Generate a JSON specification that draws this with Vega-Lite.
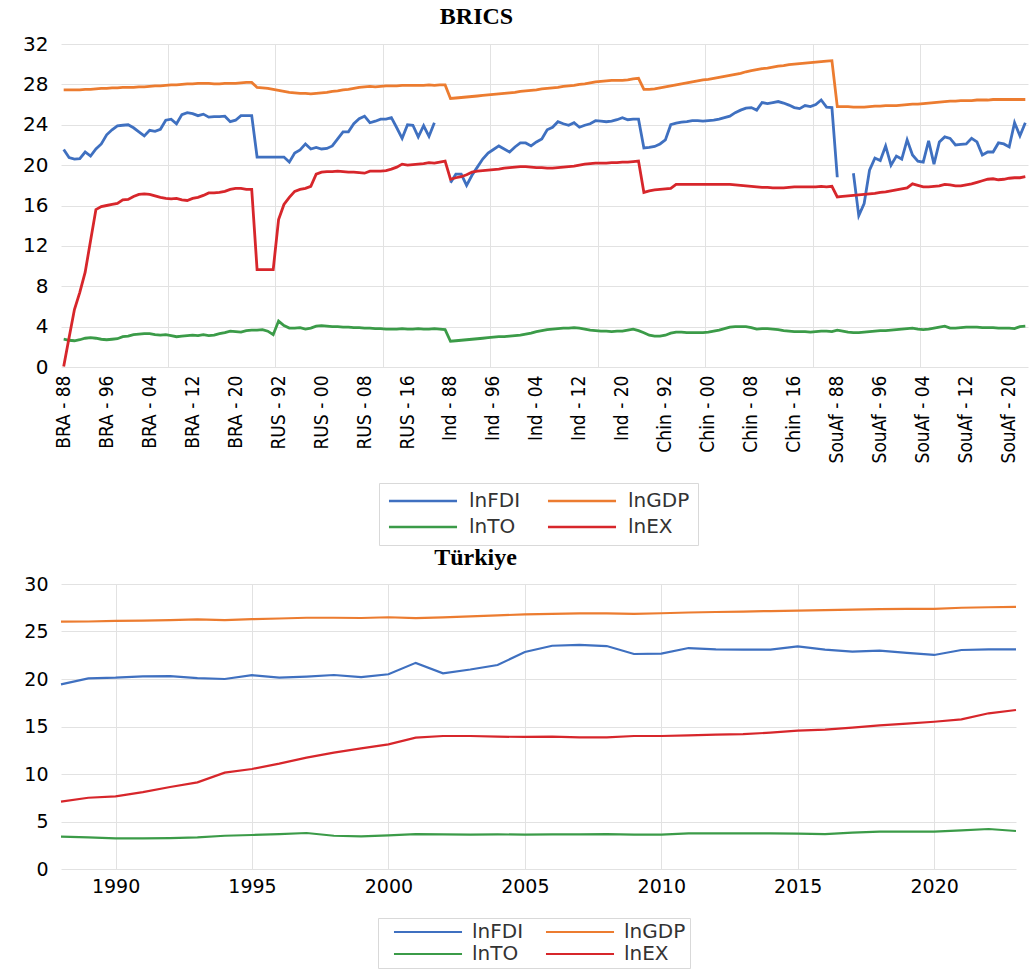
{
"$schema": "https://vega.github.io/schema/vega-lite/v6.json",
"background": "white",
"padding": {"left": 22, "top": 5, "right": 2, "bottom": 0},
"spacing": 0,
"config": {
  "view": {"stroke": null},
  "axis": {"gridColor": "#e2e2e2", "gridWidth": 1, "domain": false, "ticks": false, "labelColor": "#000", "title": null},
  "title": {"font": "Liberation Serif", "fontSize": 24, "fontWeight": "bold", "color": "#000", "anchor": "middle"},
  "legend": {"columns": 2, "direction": "horizontal", "symbolType": "M-4.86,0H4.86", "symbolSize": 196, "symbolOffset": 26, "labelOffset": 36, "labelFont": "DejaVu Sans", "labelFontSize": 20, "labelColor": "#333333", "columnPadding": 21, "rowPadding": 6, "padding": 8, "strokeColor": "#d9d9d9", "title": null}
},
"datasets": {
"brics": [
{"k":"BRA - 88","lnFDI":21.55,"lnGDP":27.45,"lnTO":2.75,"lnEX":0.05},
{"k":"BRA - 89","lnFDI":20.75,"lnGDP":27.45,"lnTO":2.65,"lnEX":2.9},
{"k":"BRA - 90","lnFDI":20.6,"lnGDP":27.45,"lnTO":2.6,"lnEX":5.7},
{"k":"BRA - 91","lnFDI":20.65,"lnGDP":27.45,"lnTO":2.7,"lnEX":7.4},
{"k":"BRA - 92","lnFDI":21.3,"lnGDP":27.5,"lnTO":2.85,"lnEX":9.4},
{"k":"BRA - 93","lnFDI":20.9,"lnGDP":27.5,"lnTO":2.9,"lnEX":12.5},
{"k":"BRA - 94","lnFDI":21.6,"lnGDP":27.55,"lnTO":2.85,"lnEX":15.6},
{"k":"BRA - 95","lnFDI":22.1,"lnGDP":27.6,"lnTO":2.75,"lnEX":15.9},
{"k":"BRA - 96","lnFDI":23.0,"lnGDP":27.6,"lnTO":2.7,"lnEX":16.0},
{"k":"BRA - 97","lnFDI":23.5,"lnGDP":27.65,"lnTO":2.75,"lnEX":16.1},
{"k":"BRA - 98","lnFDI":23.9,"lnGDP":27.65,"lnTO":2.8,"lnEX":16.2},
{"k":"BRA - 99","lnFDI":23.95,"lnGDP":27.7,"lnTO":3.0,"lnEX":16.55},
{"k":"BRA - 00","lnFDI":24.0,"lnGDP":27.7,"lnTO":3.05,"lnEX":16.6},
{"k":"BRA - 01","lnFDI":23.7,"lnGDP":27.7,"lnTO":3.2,"lnEX":16.9},
{"k":"BRA - 02","lnFDI":23.3,"lnGDP":27.75,"lnTO":3.25,"lnEX":17.1},
{"k":"BRA - 03","lnFDI":22.9,"lnGDP":27.75,"lnTO":3.3,"lnEX":17.15},
{"k":"BRA - 04","lnFDI":23.45,"lnGDP":27.8,"lnTO":3.3,"lnEX":17.1},
{"k":"BRA - 05","lnFDI":23.35,"lnGDP":27.85,"lnTO":3.2,"lnEX":16.95},
{"k":"BRA - 06","lnFDI":23.55,"lnGDP":27.85,"lnTO":3.15,"lnEX":16.8},
{"k":"BRA - 07","lnFDI":24.45,"lnGDP":27.9,"lnTO":3.2,"lnEX":16.7},
{"k":"BRA - 08","lnFDI":24.55,"lnGDP":27.95,"lnTO":3.1,"lnEX":16.65},
{"k":"BRA - 09","lnFDI":24.1,"lnGDP":27.95,"lnTO":3.0,"lnEX":16.7},
{"k":"BRA - 10","lnFDI":25.0,"lnGDP":28.0,"lnTO":3.05,"lnEX":16.55},
{"k":"BRA - 11","lnFDI":25.2,"lnGDP":28.05,"lnTO":3.1,"lnEX":16.5},
{"k":"BRA - 12","lnFDI":25.1,"lnGDP":28.05,"lnTO":3.15,"lnEX":16.7},
{"k":"BRA - 13","lnFDI":24.9,"lnGDP":28.1,"lnTO":3.1,"lnEX":16.8},
{"k":"BRA - 14","lnFDI":25.05,"lnGDP":28.1,"lnTO":3.2,"lnEX":17.0},
{"k":"BRA - 15","lnFDI":24.75,"lnGDP":28.1,"lnTO":3.1,"lnEX":17.25},
{"k":"BRA - 16","lnFDI":24.8,"lnGDP":28.05,"lnTO":3.15,"lnEX":17.25},
{"k":"BRA - 17","lnFDI":24.8,"lnGDP":28.05,"lnTO":3.3,"lnEX":17.3},
{"k":"BRA - 18","lnFDI":24.85,"lnGDP":28.1,"lnTO":3.4,"lnEX":17.4},
{"k":"BRA - 19","lnFDI":24.3,"lnGDP":28.1,"lnTO":3.55,"lnEX":17.6},
{"k":"BRA - 20","lnFDI":24.45,"lnGDP":28.1,"lnTO":3.5,"lnEX":17.7},
{"k":"BRA - 21","lnFDI":24.9,"lnGDP":28.15,"lnTO":3.45,"lnEX":17.7},
{"k":"BRA - 22","lnFDI":24.9,"lnGDP":28.2,"lnTO":3.6,"lnEX":17.6},
{"k":"BRA - 23","lnFDI":24.9,"lnGDP":28.2,"lnTO":3.65,"lnEX":17.6},
{"k":"RUS - 88","lnFDI":20.8,"lnGDP":27.7,"lnTO":3.65,"lnEX":9.65},
{"k":"RUS - 89","lnFDI":20.8,"lnGDP":27.65,"lnTO":3.7,"lnEX":9.65},
{"k":"RUS - 90","lnFDI":20.8,"lnGDP":27.6,"lnTO":3.55,"lnEX":9.65},
{"k":"RUS - 91","lnFDI":20.8,"lnGDP":27.5,"lnTO":3.2,"lnEX":9.65},
{"k":"RUS - 92","lnFDI":20.8,"lnGDP":27.4,"lnTO":4.55,"lnEX":14.6},
{"k":"RUS - 93","lnFDI":20.8,"lnGDP":27.3,"lnTO":4.1,"lnEX":16.1},
{"k":"RUS - 94","lnFDI":20.3,"lnGDP":27.2,"lnTO":3.85,"lnEX":16.8},
{"k":"RUS - 95","lnFDI":21.2,"lnGDP":27.15,"lnTO":3.85,"lnEX":17.4},
{"k":"RUS - 96","lnFDI":21.5,"lnGDP":27.1,"lnTO":3.9,"lnEX":17.6},
{"k":"RUS - 97","lnFDI":22.1,"lnGDP":27.1,"lnTO":3.75,"lnEX":17.7},
{"k":"RUS - 98","lnFDI":21.6,"lnGDP":27.05,"lnTO":3.85,"lnEX":17.9},
{"k":"RUS - 99","lnFDI":21.75,"lnGDP":27.1,"lnTO":4.05,"lnEX":19.1},
{"k":"RUS - 00","lnFDI":21.6,"lnGDP":27.15,"lnTO":4.1,"lnEX":19.3},
{"k":"RUS - 01","lnFDI":21.65,"lnGDP":27.2,"lnTO":4.05,"lnEX":19.35},
{"k":"RUS - 02","lnFDI":21.9,"lnGDP":27.3,"lnTO":4.0,"lnEX":19.35},
{"k":"RUS - 03","lnFDI":22.6,"lnGDP":27.35,"lnTO":4.0,"lnEX":19.4},
{"k":"RUS - 04","lnFDI":23.3,"lnGDP":27.45,"lnTO":3.95,"lnEX":19.35},
{"k":"RUS - 05","lnFDI":23.3,"lnGDP":27.5,"lnTO":3.95,"lnEX":19.3},
{"k":"RUS - 06","lnFDI":24.1,"lnGDP":27.6,"lnTO":3.9,"lnEX":19.3},
{"k":"RUS - 07","lnFDI":24.6,"lnGDP":27.7,"lnTO":3.9,"lnEX":19.25},
{"k":"RUS - 08","lnFDI":24.85,"lnGDP":27.75,"lnTO":3.85,"lnEX":19.2},
{"k":"RUS - 09","lnFDI":24.2,"lnGDP":27.8,"lnTO":3.85,"lnEX":19.4},
{"k":"RUS - 10","lnFDI":24.35,"lnGDP":27.75,"lnTO":3.8,"lnEX":19.4},
{"k":"RUS - 11","lnFDI":24.55,"lnGDP":27.8,"lnTO":3.8,"lnEX":19.4},
{"k":"RUS - 12","lnFDI":24.55,"lnGDP":27.85,"lnTO":3.75,"lnEX":19.45},
{"k":"RUS - 13","lnFDI":24.7,"lnGDP":27.85,"lnTO":3.75,"lnEX":19.6},
{"k":"RUS - 14","lnFDI":23.7,"lnGDP":27.85,"lnTO":3.75,"lnEX":19.8},
{"k":"RUS - 15","lnFDI":22.65,"lnGDP":27.9,"lnTO":3.8,"lnEX":20.1},
{"k":"RUS - 16","lnFDI":24.0,"lnGDP":27.9,"lnTO":3.75,"lnEX":20.0},
{"k":"RUS - 17","lnFDI":23.95,"lnGDP":27.9,"lnTO":3.75,"lnEX":20.05},
{"k":"RUS - 18","lnFDI":22.8,"lnGDP":27.9,"lnTO":3.8,"lnEX":20.1},
{"k":"RUS - 19","lnFDI":23.9,"lnGDP":27.9,"lnTO":3.75,"lnEX":20.15},
{"k":"RUS - 20","lnFDI":22.85,"lnGDP":27.95,"lnTO":3.75,"lnEX":20.25},
{"k":"RUS - 21","lnFDI":24.2,"lnGDP":27.9,"lnTO":3.8,"lnEX":20.2},
{"k":"RUS - 22","lnFDI":null,"lnGDP":27.95,"lnTO":3.75,"lnEX":20.3},
{"k":"RUS - 23","lnFDI":null,"lnGDP":27.95,"lnTO":3.7,"lnEX":20.4},
{"k":"Ind - 88","lnFDI":18.25,"lnGDP":26.6,"lnTO":2.55,"lnEX":18.6},
{"k":"Ind - 89","lnFDI":19.1,"lnGDP":26.65,"lnTO":2.6,"lnEX":18.75},
{"k":"Ind - 90","lnFDI":19.1,"lnGDP":26.7,"lnTO":2.65,"lnEX":18.85},
{"k":"Ind - 91","lnFDI":18.0,"lnGDP":26.75,"lnTO":2.7,"lnEX":19.05},
{"k":"Ind - 92","lnFDI":19.0,"lnGDP":26.8,"lnTO":2.75,"lnEX":19.3},
{"k":"Ind - 93","lnFDI":19.8,"lnGDP":26.85,"lnTO":2.8,"lnEX":19.4},
{"k":"Ind - 94","lnFDI":20.6,"lnGDP":26.9,"lnTO":2.85,"lnEX":19.45},
{"k":"Ind - 95","lnFDI":21.2,"lnGDP":26.95,"lnTO":2.9,"lnEX":19.5},
{"k":"Ind - 96","lnFDI":21.55,"lnGDP":27.0,"lnTO":2.95,"lnEX":19.55},
{"k":"Ind - 97","lnFDI":21.9,"lnGDP":27.05,"lnTO":3.0,"lnEX":19.6},
{"k":"Ind - 98","lnFDI":21.6,"lnGDP":27.1,"lnTO":3.0,"lnEX":19.7},
{"k":"Ind - 99","lnFDI":21.3,"lnGDP":27.15,"lnTO":3.05,"lnEX":19.75},
{"k":"Ind - 00","lnFDI":21.8,"lnGDP":27.2,"lnTO":3.1,"lnEX":19.8},
{"k":"Ind - 01","lnFDI":22.2,"lnGDP":27.3,"lnTO":3.15,"lnEX":19.85},
{"k":"Ind - 02","lnFDI":22.2,"lnGDP":27.35,"lnTO":3.25,"lnEX":19.85},
{"k":"Ind - 03","lnFDI":21.9,"lnGDP":27.4,"lnTO":3.35,"lnEX":19.8},
{"k":"Ind - 04","lnFDI":22.3,"lnGDP":27.45,"lnTO":3.5,"lnEX":19.75},
{"k":"Ind - 05","lnFDI":22.6,"lnGDP":27.55,"lnTO":3.6,"lnEX":19.75},
{"k":"Ind - 06","lnFDI":23.5,"lnGDP":27.6,"lnTO":3.7,"lnEX":19.7},
{"k":"Ind - 07","lnFDI":23.75,"lnGDP":27.65,"lnTO":3.75,"lnEX":19.7},
{"k":"Ind - 08","lnFDI":24.3,"lnGDP":27.7,"lnTO":3.8,"lnEX":19.75},
{"k":"Ind - 09","lnFDI":24.1,"lnGDP":27.8,"lnTO":3.85,"lnEX":19.8},
{"k":"Ind - 10","lnFDI":23.95,"lnGDP":27.85,"lnTO":3.85,"lnEX":19.85},
{"k":"Ind - 11","lnFDI":24.2,"lnGDP":27.9,"lnTO":3.9,"lnEX":19.9},
{"k":"Ind - 12","lnFDI":23.75,"lnGDP":28.0,"lnTO":3.85,"lnEX":20.0},
{"k":"Ind - 13","lnFDI":23.95,"lnGDP":28.05,"lnTO":3.75,"lnEX":20.1},
{"k":"Ind - 14","lnFDI":24.1,"lnGDP":28.15,"lnTO":3.65,"lnEX":20.15},
{"k":"Ind - 15","lnFDI":24.4,"lnGDP":28.25,"lnTO":3.6,"lnEX":20.2},
{"k":"Ind - 16","lnFDI":24.35,"lnGDP":28.3,"lnTO":3.55,"lnEX":20.2},
{"k":"Ind - 17","lnFDI":24.3,"lnGDP":28.35,"lnTO":3.55,"lnEX":20.2},
{"k":"Ind - 18","lnFDI":24.35,"lnGDP":28.4,"lnTO":3.5,"lnEX":20.25},
{"k":"Ind - 19","lnFDI":24.5,"lnGDP":28.4,"lnTO":3.55,"lnEX":20.25},
{"k":"Ind - 20","lnFDI":24.7,"lnGDP":28.4,"lnTO":3.55,"lnEX":20.3},
{"k":"Ind - 21","lnFDI":24.5,"lnGDP":28.45,"lnTO":3.65,"lnEX":20.3},
{"k":"Ind - 22","lnFDI":24.55,"lnGDP":28.55,"lnTO":3.75,"lnEX":20.35},
{"k":"Ind - 23","lnFDI":24.55,"lnGDP":28.6,"lnTO":3.6,"lnEX":20.4},
{"k":"Chin - 88","lnFDI":21.7,"lnGDP":27.5,"lnTO":3.4,"lnEX":17.3},
{"k":"Chin - 89","lnFDI":21.75,"lnGDP":27.5,"lnTO":3.15,"lnEX":17.45},
{"k":"Chin - 90","lnFDI":21.85,"lnGDP":27.55,"lnTO":3.05,"lnEX":17.55},
{"k":"Chin - 91","lnFDI":22.1,"lnGDP":27.65,"lnTO":3.05,"lnEX":17.6},
{"k":"Chin - 92","lnFDI":22.5,"lnGDP":27.75,"lnTO":3.15,"lnEX":17.65},
{"k":"Chin - 93","lnFDI":24.0,"lnGDP":27.85,"lnTO":3.35,"lnEX":17.7},
{"k":"Chin - 94","lnFDI":24.15,"lnGDP":27.95,"lnTO":3.45,"lnEX":18.1},
{"k":"Chin - 95","lnFDI":24.25,"lnGDP":28.05,"lnTO":3.45,"lnEX":18.1},
{"k":"Chin - 96","lnFDI":24.3,"lnGDP":28.15,"lnTO":3.4,"lnEX":18.1},
{"k":"Chin - 97","lnFDI":24.4,"lnGDP":28.25,"lnTO":3.4,"lnEX":18.1},
{"k":"Chin - 98","lnFDI":24.4,"lnGDP":28.35,"lnTO":3.4,"lnEX":18.1},
{"k":"Chin - 99","lnFDI":24.35,"lnGDP":28.45,"lnTO":3.4,"lnEX":18.1},
{"k":"Chin - 00","lnFDI":24.4,"lnGDP":28.5,"lnTO":3.45,"lnEX":18.1},
{"k":"Chin - 01","lnFDI":24.45,"lnGDP":28.6,"lnTO":3.55,"lnEX":18.1},
{"k":"Chin - 02","lnFDI":24.55,"lnGDP":28.7,"lnTO":3.65,"lnEX":18.1},
{"k":"Chin - 03","lnFDI":24.7,"lnGDP":28.8,"lnTO":3.8,"lnEX":18.1},
{"k":"Chin - 04","lnFDI":24.85,"lnGDP":28.9,"lnTO":3.95,"lnEX":18.1},
{"k":"Chin - 05","lnFDI":25.2,"lnGDP":29.0,"lnTO":4.0,"lnEX":18.05},
{"k":"Chin - 06","lnFDI":25.45,"lnGDP":29.1,"lnTO":4.0,"lnEX":18.0},
{"k":"Chin - 07","lnFDI":25.65,"lnGDP":29.25,"lnTO":4.0,"lnEX":17.95},
{"k":"Chin - 08","lnFDI":25.7,"lnGDP":29.35,"lnTO":3.9,"lnEX":17.9},
{"k":"Chin - 09","lnFDI":25.45,"lnGDP":29.45,"lnTO":3.75,"lnEX":17.85},
{"k":"Chin - 10","lnFDI":26.2,"lnGDP":29.55,"lnTO":3.8,"lnEX":17.8},
{"k":"Chin - 11","lnFDI":26.1,"lnGDP":29.6,"lnTO":3.8,"lnEX":17.8},
{"k":"Chin - 12","lnFDI":26.2,"lnGDP":29.7,"lnTO":3.75,"lnEX":17.75},
{"k":"Chin - 13","lnFDI":26.3,"lnGDP":29.8,"lnTO":3.7,"lnEX":17.75},
{"k":"Chin - 14","lnFDI":26.15,"lnGDP":29.85,"lnTO":3.6,"lnEX":17.75},
{"k":"Chin - 15","lnFDI":25.95,"lnGDP":29.95,"lnTO":3.55,"lnEX":17.8},
{"k":"Chin - 16","lnFDI":25.7,"lnGDP":30.0,"lnTO":3.5,"lnEX":17.85},
{"k":"Chin - 17","lnFDI":25.6,"lnGDP":30.05,"lnTO":3.5,"lnEX":17.85},
{"k":"Chin - 18","lnFDI":25.9,"lnGDP":30.1,"lnTO":3.5,"lnEX":17.85},
{"k":"Chin - 19","lnFDI":25.8,"lnGDP":30.15,"lnTO":3.45,"lnEX":17.85},
{"k":"Chin - 20","lnFDI":26.0,"lnGDP":30.2,"lnTO":3.5,"lnEX":17.85},
{"k":"Chin - 21","lnFDI":26.45,"lnGDP":30.25,"lnTO":3.55,"lnEX":17.9},
{"k":"Chin - 22","lnFDI":25.75,"lnGDP":30.3,"lnTO":3.55,"lnEX":17.85},
{"k":"Chin - 23","lnFDI":25.7,"lnGDP":30.35,"lnTO":3.5,"lnEX":17.9},
{"k":"SouAf - 88","lnFDI":18.8,"lnGDP":25.8,"lnTO":3.65,"lnEX":16.85},
{"k":"SouAf - 89","lnFDI":null,"lnGDP":25.8,"lnTO":3.55,"lnEX":16.9},
{"k":"SouAf - 90","lnFDI":null,"lnGDP":25.8,"lnTO":3.45,"lnEX":16.95},
{"k":"SouAf - 91","lnFDI":19.2,"lnGDP":25.75,"lnTO":3.4,"lnEX":17.0},
{"k":"SouAf - 92","lnFDI":15.0,"lnGDP":25.75,"lnTO":3.4,"lnEX":17.05},
{"k":"SouAf - 93","lnFDI":16.2,"lnGDP":25.75,"lnTO":3.45,"lnEX":17.1},
{"k":"SouAf - 94","lnFDI":19.5,"lnGDP":25.8,"lnTO":3.5,"lnEX":17.15},
{"k":"SouAf - 95","lnFDI":20.7,"lnGDP":25.85,"lnTO":3.55,"lnEX":17.2},
{"k":"SouAf - 96","lnFDI":20.45,"lnGDP":25.85,"lnTO":3.6,"lnEX":17.3},
{"k":"SouAf - 97","lnFDI":21.9,"lnGDP":25.9,"lnTO":3.6,"lnEX":17.35},
{"k":"SouAf - 98","lnFDI":20.0,"lnGDP":25.9,"lnTO":3.65,"lnEX":17.45},
{"k":"SouAf - 99","lnFDI":20.9,"lnGDP":25.9,"lnTO":3.7,"lnEX":17.55},
{"k":"SouAf - 00","lnFDI":20.6,"lnGDP":25.95,"lnTO":3.75,"lnEX":17.65},
{"k":"SouAf - 01","lnFDI":22.5,"lnGDP":26.0,"lnTO":3.8,"lnEX":17.75},
{"k":"SouAf - 02","lnFDI":21.0,"lnGDP":26.05,"lnTO":3.85,"lnEX":18.15},
{"k":"SouAf - 03","lnFDI":20.4,"lnGDP":26.05,"lnTO":3.75,"lnEX":18.0},
{"k":"SouAf - 04","lnFDI":20.3,"lnGDP":26.1,"lnTO":3.7,"lnEX":17.85},
{"k":"SouAf - 05","lnFDI":22.4,"lnGDP":26.15,"lnTO":3.75,"lnEX":17.85},
{"k":"SouAf - 06","lnFDI":20.1,"lnGDP":26.2,"lnTO":3.85,"lnEX":17.9},
{"k":"SouAf - 07","lnFDI":22.3,"lnGDP":26.25,"lnTO":3.95,"lnEX":17.95},
{"k":"SouAf - 08","lnFDI":22.8,"lnGDP":26.3,"lnTO":4.05,"lnEX":18.1},
{"k":"SouAf - 09","lnFDI":22.65,"lnGDP":26.35,"lnTO":3.85,"lnEX":18.05},
{"k":"SouAf - 10","lnFDI":22.0,"lnGDP":26.35,"lnTO":3.85,"lnEX":17.95},
{"k":"SouAf - 11","lnFDI":22.05,"lnGDP":26.4,"lnTO":3.9,"lnEX":17.95},
{"k":"SouAf - 12","lnFDI":22.1,"lnGDP":26.4,"lnTO":3.95,"lnEX":18.05},
{"k":"SouAf - 13","lnFDI":22.65,"lnGDP":26.4,"lnTO":3.95,"lnEX":18.15},
{"k":"SouAf - 14","lnFDI":22.3,"lnGDP":26.45,"lnTO":3.95,"lnEX":18.3},
{"k":"SouAf - 15","lnFDI":21.0,"lnGDP":26.45,"lnTO":3.9,"lnEX":18.45},
{"k":"SouAf - 16","lnFDI":21.3,"lnGDP":26.45,"lnTO":3.9,"lnEX":18.6},
{"k":"SouAf - 17","lnFDI":21.3,"lnGDP":26.5,"lnTO":3.9,"lnEX":18.65},
{"k":"SouAf - 18","lnFDI":22.2,"lnGDP":26.5,"lnTO":3.85,"lnEX":18.55},
{"k":"SouAf - 19","lnFDI":22.1,"lnGDP":26.5,"lnTO":3.85,"lnEX":18.6},
{"k":"SouAf - 20","lnFDI":21.8,"lnGDP":26.5,"lnTO":3.85,"lnEX":18.7},
{"k":"SouAf - 21","lnFDI":24.2,"lnGDP":26.5,"lnTO":3.8,"lnEX":18.75},
{"k":"SouAf - 22","lnFDI":22.9,"lnGDP":26.5,"lnTO":4.0,"lnEX":18.75},
{"k":"SouAf - 23","lnFDI":24.2,"lnGDP":26.5,"lnTO":4.05,"lnEX":18.85}
],
"tr": [
{"year":1988,"lnFDI":19.44,"lnGDP":26.03,"lnTO":3.4,"lnEX":7.09},
{"year":1989,"lnFDI":20.07,"lnGDP":26.05,"lnTO":3.33,"lnEX":7.5},
{"year":1990,"lnFDI":20.14,"lnGDP":26.12,"lnTO":3.23,"lnEX":7.65},
{"year":1991,"lnFDI":20.28,"lnGDP":26.15,"lnTO":3.23,"lnEX":8.1},
{"year":1992,"lnFDI":20.3,"lnGDP":26.2,"lnTO":3.26,"lnEX":8.63},
{"year":1993,"lnFDI":20.1,"lnGDP":26.27,"lnTO":3.33,"lnEX":9.12},
{"year":1994,"lnFDI":20.0,"lnGDP":26.2,"lnTO":3.5,"lnEX":10.14},
{"year":1995,"lnFDI":20.4,"lnGDP":26.3,"lnTO":3.58,"lnEX":10.53},
{"year":1996,"lnFDI":20.14,"lnGDP":26.37,"lnTO":3.68,"lnEX":11.09},
{"year":1997,"lnFDI":20.25,"lnGDP":26.45,"lnTO":3.79,"lnEX":11.72},
{"year":1998,"lnFDI":20.42,"lnGDP":26.45,"lnTO":3.5,"lnEX":12.25},
{"year":1999,"lnFDI":20.2,"lnGDP":26.42,"lnTO":3.44,"lnEX":12.7},
{"year":2000,"lnFDI":20.5,"lnGDP":26.5,"lnTO":3.54,"lnEX":13.12},
{"year":2001,"lnFDI":21.7,"lnGDP":26.4,"lnTO":3.68,"lnEX":13.82},
{"year":2002,"lnFDI":20.6,"lnGDP":26.48,"lnTO":3.65,"lnEX":14.0},
{"year":2003,"lnFDI":21.0,"lnGDP":26.6,"lnTO":3.61,"lnEX":14.0},
{"year":2004,"lnFDI":21.47,"lnGDP":26.7,"lnTO":3.65,"lnEX":13.93},
{"year":2005,"lnFDI":22.84,"lnGDP":26.8,"lnTO":3.61,"lnEX":13.9},
{"year":2006,"lnFDI":23.5,"lnGDP":26.85,"lnTO":3.65,"lnEX":13.93},
{"year":2007,"lnFDI":23.6,"lnGDP":26.9,"lnTO":3.65,"lnEX":13.86},
{"year":2008,"lnFDI":23.47,"lnGDP":26.9,"lnTO":3.68,"lnEX":13.86},
{"year":2009,"lnFDI":22.63,"lnGDP":26.85,"lnTO":3.61,"lnEX":14.0},
{"year":2010,"lnFDI":22.67,"lnGDP":26.92,"lnTO":3.61,"lnEX":14.0},
{"year":2011,"lnFDI":23.26,"lnGDP":27.0,"lnTO":3.75,"lnEX":14.07},
{"year":2012,"lnFDI":23.12,"lnGDP":27.05,"lnTO":3.75,"lnEX":14.14},
{"year":2013,"lnFDI":23.1,"lnGDP":27.1,"lnTO":3.75,"lnEX":14.2},
{"year":2014,"lnFDI":23.09,"lnGDP":27.15,"lnTO":3.75,"lnEX":14.35},
{"year":2015,"lnFDI":23.44,"lnGDP":27.2,"lnTO":3.72,"lnEX":14.56},
{"year":2016,"lnFDI":23.09,"lnGDP":27.25,"lnTO":3.68,"lnEX":14.67},
{"year":2017,"lnFDI":22.88,"lnGDP":27.3,"lnTO":3.82,"lnEX":14.88},
{"year":2018,"lnFDI":22.98,"lnGDP":27.35,"lnTO":3.93,"lnEX":15.12},
{"year":2019,"lnFDI":22.74,"lnGDP":27.38,"lnTO":3.93,"lnEX":15.3},
{"year":2020,"lnFDI":22.53,"lnGDP":27.38,"lnTO":3.93,"lnEX":15.5},
{"year":2021,"lnFDI":23.05,"lnGDP":27.5,"lnTO":4.07,"lnEX":15.75},
{"year":2022,"lnFDI":23.12,"lnGDP":27.55,"lnTO":4.21,"lnEX":16.39},
{"year":2023,"lnFDI":23.12,"lnGDP":27.6,"lnTO":4.0,"lnEX":16.74}
]
},
"resolve": {"scale": {"color": "independent"}, "legend": {"color": "independent"}},
"vconcat": [
{
  "title": {"text": "BRICS", "dx": -68, "offset": 5},
  "width": 967,
  "height": 323,
  "data": {"name": "brics"},
  "transform": [{"fold": ["lnFDI", "lnGDP", "lnTO", "lnEX"], "as": ["series", "value"]}],
  "resolve": {"axis": {"x": "independent"}},
  "layer": [
    {
      "mark": {"type": "line", "opacity": 0},
      "encoding": {
        "x": {"field": "k", "type": "ordinal", "sort": null, "bandPosition": 0.5,
              "scale": {"type": "band", "paddingInner": 0, "paddingOuter": 0},
              "axis": {"orient": "top", "labels": false, "ticks": false, "domain": false, "grid": true, "bandPosition": 0,
                       "values": ["BRA - 08", "RUS - 92", "RUS - 12", "Ind - 96", "Ind - 16", "Chin - 00", "Chin - 20", "SouAf - 04"]}},
        "y": {"field": "value", "type": "quantitative", "scale": {"domain": [0, 32], "nice": false},
              "axis": {"values": [0, 4, 8, 12, 16, 20, 24, 28, 32], "grid": true, "labelFont": "DejaVu Sans", "labelFontSize": 20, "labelPadding": 13}},
        "detail": {"field": "series"}
      }
    },
    {
      "mark": {"type": "line", "strokeWidth": 2.8, "invalid": "break-paths-show-domains"},
      "encoding": {
        "x": {"field": "k", "type": "ordinal", "sort": null, "bandPosition": 0.5,
              "scale": {"type": "band", "paddingInner": 0, "paddingOuter": 0},
              "axis": {"orient": "bottom", "grid": false, "labelAngle": -90, "labelFont": "Liberation Sans Narrow, DejaVu Sans Condensed, Arial Narrow, sans-serif", "labelFontSize": 19, "labelPadding": 8,
                       "values": ["BRA - 88", "BRA - 96", "BRA - 04", "BRA - 12", "BRA - 20", "RUS - 92", "RUS - 00", "RUS - 08", "RUS - 16", "Ind - 88", "Ind - 96", "Ind - 04", "Ind - 12", "Ind - 20", "Chin - 92", "Chin - 00", "Chin - 08", "Chin - 16", "SouAf - 88", "SouAf - 96", "SouAf - 04", "SouAf - 12", "SouAf - 20"]}},
        "y": {"field": "value", "type": "quantitative", "scale": {"domain": [0, 32], "nice": false},
              "axis": {"values": [0, 4, 8, 12, 16, 20, 24, 28, 32], "grid": true, "labelFont": "DejaVu Sans", "labelFontSize": 20, "labelPadding": 13}},
        "color": {"field": "series", "type": "nominal",
                  "scale": {"domain": ["lnFDI", "lnGDP", "lnTO", "lnEX"], "range": ["#3f70c0", "#ec7c30", "#3b9b48", "#d7262b"]},
                  "legend": {"orient": "none", "legendX": 318, "legendY": 439, "symbolStrokeWidth": 2.5}}
      }
    }
  ]
},
{
  "title": {"text": "Türkiye", "dx": -63, "offset": 5},
  "width": 955,
  "height": 285,
  "data": {"name": "tr"},
  "transform": [{"fold": ["lnFDI", "lnGDP", "lnTO", "lnEX"], "as": ["series", "value"]}],
  "mark": {"type": "line", "strokeWidth": 2.2},
  "encoding": {
    "x": {"field": "year", "type": "quantitative", "scale": {"domain": [1988, 2023], "nice": false, "zero": false},
          "axis": {"values": [1990, 1995, 2000, 2005, 2010, 2015, 2020], "format": "d", "grid": true, "labelFont": "DejaVu Sans", "labelFontSize": 19, "labelPadding": 8}},
    "y": {"field": "value", "type": "quantitative", "scale": {"domain": [0, 30], "nice": false},
          "axis": {"values": [0, 5, 10, 15, 20, 25, 30], "grid": true, "labelFont": "DejaVu Sans", "labelFontSize": 19, "labelPadding": 13}},
    "color": {"field": "series", "type": "nominal",
              "scale": {"domain": ["lnFDI", "lnGDP", "lnTO", "lnEX"], "range": ["#3f70c0", "#ec7c30", "#3b9b48", "#d7262b"]},
              "legend": {"orient": "none", "legendX": 317, "legendY": 334, "symbolStrokeWidth": 2.2, "padding": 4, "rowPadding": 2, "symbolOffset": 36, "labelOffset": 34, "columnPadding": 10}}
  }
}
]
}
